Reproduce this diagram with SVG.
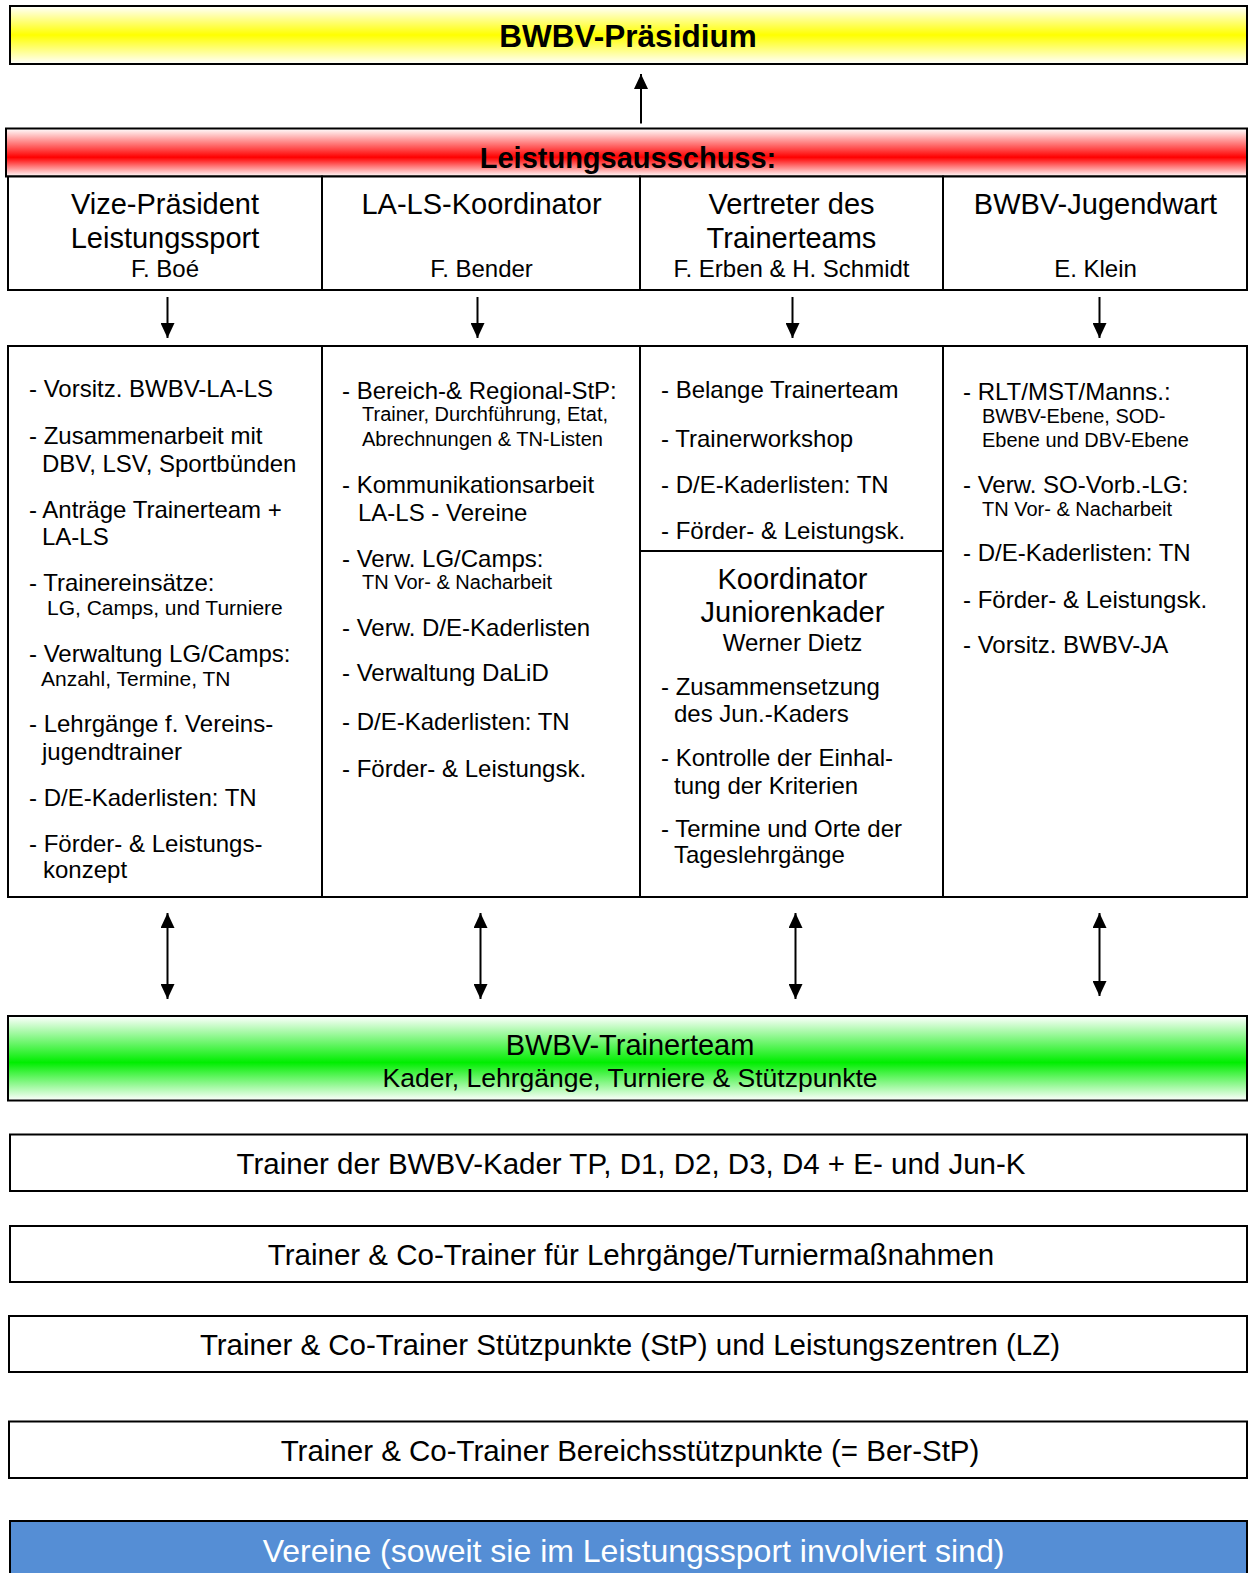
<svg xmlns="http://www.w3.org/2000/svg" width="1248" height="1573" viewBox="0 0 1248 1573">
<defs>
<linearGradient id="gY" x1="0" y1="0" x2="0" y2="1"><stop offset="0" stop-color="#fff"/><stop offset="0.5" stop-color="#ffff00"/><stop offset="1" stop-color="#fff"/></linearGradient>
<linearGradient id="gR" x1="0" y1="0" x2="0" y2="1"><stop offset="0" stop-color="#fff"/><stop offset="0.6" stop-color="#ff0000"/><stop offset="1" stop-color="#fff"/></linearGradient>
<linearGradient id="gG" x1="0" y1="0" x2="0" y2="1"><stop offset="0" stop-color="#fff"/><stop offset="0.55" stop-color="#00ee00"/><stop offset="1" stop-color="#fff"/></linearGradient>
<marker id="ah" viewBox="0 0 15 14" refX="15" refY="7" markerWidth="15" markerHeight="14" markerUnits="userSpaceOnUse" orient="auto-start-reverse"><path d="M0,0 L15,7 L0,14 z" fill="#000"/></marker>
<clipPath id="c3"><rect x="640" y="346" width="303" height="197.5"/></clipPath>
</defs>
<style>
text{font-family:"Liberation Sans",Arial,sans-serif;fill:#000}
.box{fill:#fff;stroke:#000;stroke-width:2}
.t{font-size:24px}
.s{font-size:20px}
.s1{font-size:21px}
.h{font-size:29px;text-anchor:middle}
.n{font-size:24px;text-anchor:middle}
.b{font-size:29.5px;text-anchor:middle}
.con{stroke:#000;stroke-width:2;fill:none}
</style>

<g id="praesidium">
<rect x="10" y="6" width="1237" height="58" fill="url(#gY)" stroke="#000" stroke-width="2"/>
<text x="628" y="46.5" style="font-size:31.5px;font-weight:bold" text-anchor="middle">BWBV-Präsidium</text>
</g>

<g id="leistungsausschuss">
<rect x="6" y="128.5" width="1241" height="48" fill="url(#gR)" stroke="#000" stroke-width="2"/>
<text x="628" y="167.5" style="font-size:29px;font-weight:bold" text-anchor="middle">Leistungsausschuss:</text>
</g>

<g id="header1">
<rect class="box" x="8" y="176.5" width="314" height="113.5"/>
<text class="h" x="165" y="214">Vize-Präsident</text>
<text class="h" x="165" y="248">Leistungssport</text>
<text class="n" x="165" y="277">F. Boé</text>
</g>
<g id="header2">
<rect class="box" x="322" y="176.5" width="318" height="113.5"/>
<text class="h" x="481.5" y="214">LA-LS-Koordinator</text>
<text class="n" x="481.5" y="277">F. Bender</text>
</g>
<g id="header3">
<rect class="box" x="640" y="176.5" width="303" height="113.5"/>
<text class="h" x="791.5" y="214">Vertreter des</text>
<text class="h" x="791.5" y="248">Trainerteams</text>
<text class="n" x="791.5" y="277">F. Erben &amp; H. Schmidt</text>
</g>
<g id="header4">
<rect class="box" x="943" y="176.5" width="304" height="113.5"/>
<text class="h" x="1095.5" y="214">BWBV-Jugendwart</text>
<text class="n" x="1095.5" y="277">E. Klein</text>
</g>

<g id="tasks1">
<rect class="box" x="8" y="346" width="314" height="551"/>
<text class="t" x="29" y="397">- Vorsitz. BWBV-LA-LS</text>
<text class="t" x="29" y="443.5">- Zusammenarbeit mit</text>
<text class="t" x="42" y="471.5">DBV, LSV, Sportbünden</text>
<text class="t" x="29" y="517.5">- Anträge Trainerteam +</text>
<text class="t" x="42" y="545">LA-LS</text>
<text class="t" x="29" y="591">- Trainereinsätze:</text>
<text class="s1" x="47" y="615">LG, Camps, und Turniere</text>
<text class="t" x="29" y="662">- Verwaltung LG/Camps:</text>
<text class="s1" x="41" y="686">Anzahl, Termine, TN</text>
<text class="t" x="29" y="732">- Lehrgänge f. Vereins-</text>
<text class="t" x="42" y="759.5">jugendtrainer</text>
<text class="t" x="29" y="805.5">- D/E-Kaderlisten: TN</text>
<text class="t" x="29" y="851.5">- Förder- &amp; Leistungs-</text>
<text class="t" x="43" y="878">konzept</text>
</g>

<g id="tasks2">
<rect class="box" x="322" y="346" width="318" height="551"/>
<text class="t" x="342" y="399">- Bereich-&amp; Regional-StP:</text>
<text class="s" x="362" y="421">Trainer, Durchführung, Etat,</text>
<text class="s" x="362" y="445.5">Abrechnungen &amp; TN-Listen</text>
<text class="t" x="342" y="492.5">- Kommunikationsarbeit</text>
<text class="t" x="358" y="520.5">LA-LS - Vereine</text>
<text class="t" x="342" y="567">- Verw. LG/Camps:</text>
<text class="s" x="362" y="589">TN Vor- &amp; Nacharbeit</text>
<text class="t" x="342" y="636">- Verw. D/E-Kaderlisten</text>
<text class="t" x="342" y="681">- Verwaltung DaLiD</text>
<text class="t" x="342" y="730">- D/E-Kaderlisten: TN</text>
<text class="t" x="342" y="776.5">- Förder- &amp; Leistungsk.</text>
</g>

<g id="tasks3">
<rect class="box" x="640" y="346" width="303" height="205"/>
<text class="t" x="661" y="398">- Belange Trainerteam</text>
<text class="t" x="661" y="446.5">- Trainerworkshop</text>
<text class="t" x="661" y="492.5">- D/E-Kaderlisten: TN</text>
<text class="t" x="661" y="538.5" clip-path="url(#c3)">- Förder- &amp; Leistungsk.</text>
</g>

<g id="koordinator">
<rect class="box" x="640" y="551" width="303" height="346"/>
<text class="h" x="792.5" y="589">Koordinator</text>
<text class="h" x="792.5" y="622">Juniorenkader</text>
<text class="n" x="792.5" y="651">Werner Dietz</text>
<text class="t" x="661" y="695">- Zusammensetzung</text>
<text class="t" x="674" y="722">des Jun.-Kaders</text>
<text class="t" x="661" y="765.5">- Kontrolle der Einhal-</text>
<text class="t" x="674" y="793.5">tung der Kriterien</text>
<text class="t" x="661" y="836.5">- Termine und Orte der</text>
<text class="t" x="674" y="863">Tageslehrgänge</text>
</g>

<g id="tasks4">
<rect class="box" x="943" y="346" width="304" height="551"/>
<text class="t" x="963" y="400">- RLT/MST/Manns.:</text>
<text class="s" x="982" y="422.5">BWBV-Ebene, SOD-</text>
<text class="s" x="982" y="446.5">Ebene und DBV-Ebene</text>
<text class="t" x="963" y="492.5">- Verw. SO-Vorb.-LG:</text>
<text class="s" x="982" y="515.5">TN Vor- &amp; Nacharbeit</text>
<text class="t" x="963" y="561">- D/E-Kaderlisten: TN</text>
<text class="t" x="963" y="608">- Förder- &amp; Leistungsk.</text>
<text class="t" x="963" y="653">- Vorsitz. BWBV-JA</text>
</g>

<g id="trainerteam">
<rect x="8" y="1016" width="1239" height="84.5" fill="url(#gG)" stroke="#000" stroke-width="2"/>
<text class="b" x="630" y="1055" style="font-size:29px">BWBV-Trainerteam</text>
<text x="630" y="1086.5" style="font-size:26.5px" text-anchor="middle">Kader, Lehrgänge, Turniere &amp; Stützpunkte</text>
</g>

<g id="kadertrainer">
<rect class="box" x="10" y="1134.5" width="1237" height="56.5"/>
<text class="b" x="631" y="1174">Trainer der BWBV-Kader TP, D1, D2, D3, D4 + E- und Jun-K</text>
</g>
<g id="lehrgangstrainer">
<rect class="box" x="10" y="1226" width="1237" height="56"/>
<text class="b" x="631" y="1265">Trainer &amp; Co-Trainer für Lehrgänge/Turniermaßnahmen</text>
</g>
<g id="stuetzpunkttrainer">
<rect class="box" x="9" y="1316" width="1238" height="56"/>
<text class="b" x="630" y="1355">Trainer &amp; Co-Trainer Stützpunkte (StP) und Leistungszentren (LZ)</text>
</g>
<g id="bereichstrainer">
<rect class="box" x="9" y="1421.5" width="1238" height="56.5"/>
<text class="b" x="630" y="1460.5">Trainer &amp; Co-Trainer Bereichsstützpunkte (= Ber-StP)</text>
</g>
<g id="vereine">
<rect x="10" y="1521" width="1237" height="70" fill="#558ed5" stroke="#000" stroke-width="2"/>
<text x="633.5" y="1562" style="fill:#fff;font-size:32px" text-anchor="middle">Vereine (soweit sie im Leistungssport involviert sind)</text>
</g>

<g id="connectors">
<line class="con" x1="641" y1="123.5" x2="641" y2="74" marker-end="url(#ah)"/>
<line class="con" x1="167.5" y1="297" x2="167.5" y2="338" marker-end="url(#ah)"/>
<line class="con" x1="477.5" y1="297" x2="477.5" y2="338" marker-end="url(#ah)"/>
<line class="con" x1="792.5" y1="297" x2="792.5" y2="338" marker-end="url(#ah)"/>
<line class="con" x1="1099.5" y1="297" x2="1099.5" y2="338" marker-end="url(#ah)"/>
<line class="con" x1="167.5" y1="913" x2="167.5" y2="999" marker-start="url(#ah)" marker-end="url(#ah)"/>
<line class="con" x1="480.5" y1="913" x2="480.5" y2="999" marker-start="url(#ah)" marker-end="url(#ah)"/>
<line class="con" x1="795.5" y1="913" x2="795.5" y2="999" marker-start="url(#ah)" marker-end="url(#ah)"/>
<line class="con" x1="1099.5" y1="913" x2="1099.5" y2="996" marker-start="url(#ah)" marker-end="url(#ah)"/>
</g>
</svg>
